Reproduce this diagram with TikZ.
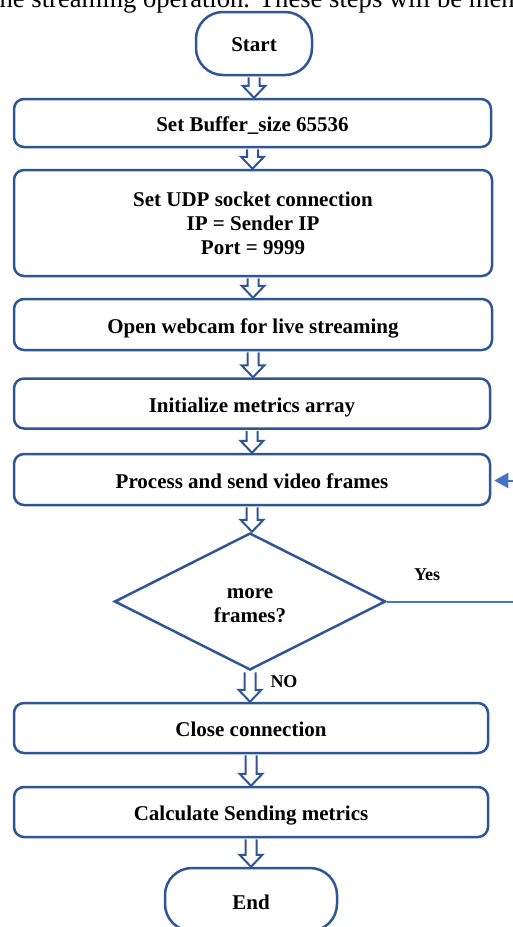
\documentclass[tikz,border=0pt]{standalone}
\usepackage{fontspec}
\setmainfont{Liberation Serif}
\usetikzlibrary{shapes.geometric,arrows.meta,calc}
\definecolor{boxblue}{HTML}{2F5597}
\definecolor{yesblue}{HTML}{4472C4}
\tikzset{
  procbox/.style={draw=boxblue, line width=2.5pt, rounded corners=10pt, rectangle,
    inner sep=0pt, font=\fontsize{21}{24}\selectfont\bfseries, align=center},
  oneline/.style={procbox, text height=17pt, text depth=0pt},
  termbox/.style={draw=boxblue, line width=2.5pt, rounded corners=27pt, rectangle,
    inner sep=0pt, font=\fontsize{21}{24}\selectfont\bfseries},
  decbox/.style={draw=boxblue, line width=2.5pt, diamond, inner sep=0pt,
    font=\fontsize{21}{24}\selectfont\bfseries, align=center},
  barrow/.style={draw=boxblue, line width=2pt, fill=white, line join=miter},
  yesline/.style={draw=yesblue, line width=2pt, -{Triangle[length=14pt,width=15pt]}},
  lbl/.style={font=\fontsize{18}{20}\selectfont\bfseries, inner sep=0pt},
}
\newcommand\blockarr[2]{%
  \path[barrow] let \p1=(#1.south), \p2=(#2.north) in
    (\x1-5.5pt,\y1-1.2pt) -- (\x1-5.5pt,\y2+12pt) -- (\x1-11.5pt,\y2+12pt) --
    (\x1,\y2) -- (\x1+11.5pt,\y2+12pt) -- (\x1+5.5pt,\y2+12pt) --
    (\x1+5.5pt,\y1-1.2pt);}
\newcommand\lowerby[2]{\raisebox{-#1}[\height][\depth]{#2}}
\begin{document}
\begin{tikzpicture}[x=1pt,y=-1pt]
\useasboundingbox (0,0) rectangle (513,927);
\clip (0,0) rectangle (513,927);
\node[anchor=base west, inner sep=0pt, font=\fontsize{26.6}{28}\selectfont] (intro) at (-0.5,7) {he streaming operation. These steps will be men};
\node[termbox, minimum width=116pt, minimum height=63pt] (start) at (254,43.5) {\lowerby{1pt}{Start}};
\node[oneline, minimum width=477pt, minimum height=48pt] (b1) at (252.5,123) {Set Buffer\_size 65536};
\node[procbox, minimum width=478pt, minimum height=106pt] (b2) at (253,223) {Set UDP socket connection\\IP = Sender IP\\Port = 9999};
\node[oneline, minimum width=478pt, minimum height=51pt] (b3) at (253,324.5) {Open webcam for live streaming};
\node[oneline, minimum width=476pt, minimum height=50pt] (b4) at (252,403.5) {Initialize metrics array};
\node[oneline, minimum width=476pt, minimum height=51pt] (b5) at (252,479.5) {Process and send video frames};
\node[decbox, minimum width=271pt, minimum height=137pt] (dec) at (250,601.5) {\lowerby{4.5pt}{\begin{tabular}{@{}c@{}}more\\frames?\end{tabular}}};
\node[oneline, minimum width=474pt, minimum height=50pt] (b6) at (251,728) {Close connection};
\node[oneline, minimum width=474pt, minimum height=50pt] (b7) at (251,812) {Calculate Sending metrics};
\node[termbox, minimum width=172pt, minimum height=63pt] (end) at (251,899.5) {\lowerby{3pt}{End}};
\blockarr{start}{b1}
\blockarr{b1}{b2}
\blockarr{b2}{b3}
\blockarr{b3}{b4}
\blockarr{b4}{b5}
\blockarr{b5}{dec}
\blockarr{dec}{b6}
\blockarr{b6}{b7}
\blockarr{b7}{end}
\coordinate (loop) at (540,601.5);
\draw[yesline] (dec.east) -- (loop) |- ([xshift=3pt,yshift=-1pt]b5.east);
\node[lbl] (yes) at (427,575) {Yes};
\node[lbl] (no) at (284,682) {NO};
\end{tikzpicture}
\end{document}
